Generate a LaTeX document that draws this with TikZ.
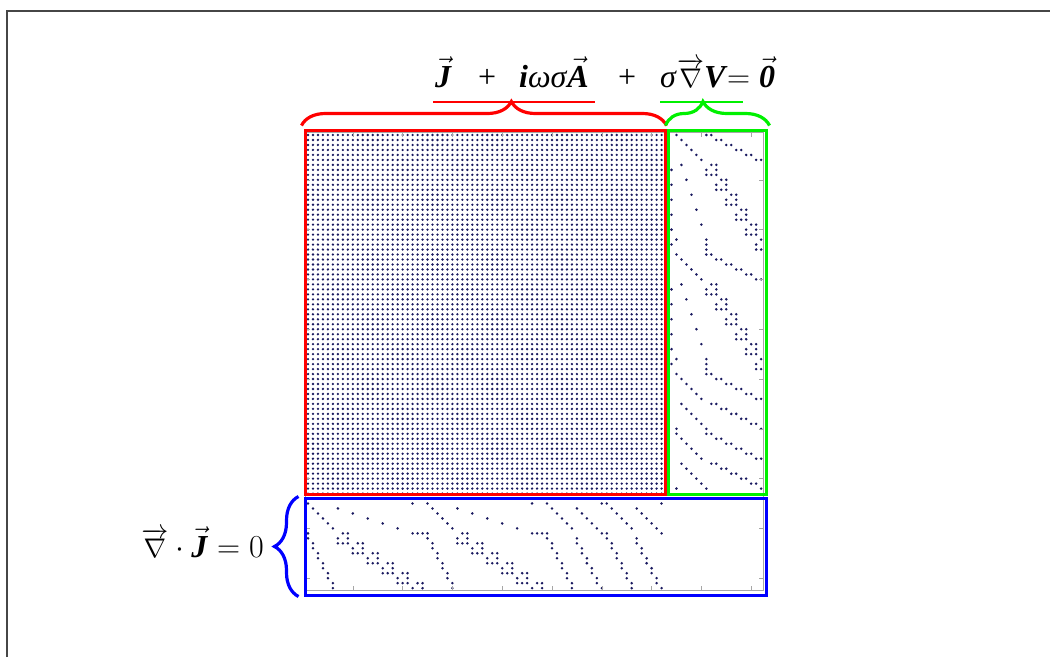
\RequirePackage{fix-cm}
\documentclass[tikz,border=0pt]{standalone}
\usepackage{fontspec}
\setmainfont{Liberation Serif}
\usepackage{amsmath}
\usetikzlibrary{decorations.pathreplacing}
\definecolor{spydot}{RGB}{25,25,95}
\definecolor{blockred}{RGB}{255,0,0}
\definecolor{blockgreen}{RGB}{0,240,0}
\definecolor{blockblue}{RGB}{0,0,255}
\definecolor{framegray}{RGB}{70,70,70}

\newcommand{\bvec}[1]{\ensuremath{\vec{\textbf{\textit{#1}}}}}
\newcommand{\bital}[1]{\textbf{\textit{#1}}}
\newcommand{\gradarrow}{{\fontsize{27}{32}\selectfont$\overrightarrow{\nabla}$}}
% one coupling entry: row #1 of the A block, column #2 of the V block (and its transpose)
\newcommand{\coupling}[2]{%
  \fill[spydot] ({671.5+4.98*(#2)},{135+4.98*(#1)}) circle (1.4);
  \fill[spydot] ({308+4.98*(#1)},{498.5+4.98*(#2)}) circle (1.4);}

\begin{document}
\begin{tikzpicture}[x=1pt,y=-1pt,
    eqtext/.style={inner sep=0pt,font=\fontsize{32}{38}\selectfont},
    blockbox/.style={draw=#1,line width=3pt,inner sep=0pt},
    bracemark/.style={decorate,line width=3.2pt,
      decoration={brace,amplitude=24pt,aspect=#1}},
    bracemark/.default=0.5]
  \useasboundingbox (0,0) rectangle (1050,657);
  \draw[framegray,line width=1.5pt] (7,657) -- (7,11) -- (1050,11);

  % dense A block
  \foreach \i in {0,...,72}
    \draw[spydot,line width=2.6pt,line cap=round,dash pattern=on 0pt off 4.98pt]
      (308,{135+4.98*\i}) -- (668,{135+4.98*\i});

  % coupling blocks
  \foreach \o in {0,24} {
    \foreach \k in {0,...,5} {
      \coupling{\o+\k}{1+\k} \coupling{\o+\k}{7+2*\k} \coupling{\o+\k}{8+2*\k}
    }
    \foreach \m in {0,...,4} {
      \coupling{\o+6+3*\m}{2+\m} \coupling{\o+6+3*\m}{8+2*\m} \coupling{\o+6+3*\m}{9+2*\m}
      \coupling{\o+7+3*\m}{7+2*\m} \coupling{\o+7+3*\m}{9+2*\m}
      \coupling{\o+8+3*\m}{7+2*\m} \coupling{\o+8+3*\m}{8+2*\m} \coupling{\o+8+3*\m}{9+2*\m}
    }
    \foreach \m in {0,...,5} {
      \coupling{\o+7+3*\m}{0}
    }
    \coupling{\o+21}{1} \coupling{\o+21}{7} \coupling{\o+21}{18}
    \coupling{\o+22}{7} \coupling{\o+22}{17}
    \coupling{\o+23}{7} \coupling{\o+23}{17} \coupling{\o+23}{18}
  }
  \foreach \o in {48,60} {
    \foreach \k in {0,...,5} {
      \coupling{\o+\k}{1+\k} \coupling{\o+\k}{7+2*\k} \coupling{\o+\k}{8+2*\k}
    }
    \foreach \k in {0,...,4} {
      \coupling{\o+6+\k}{2+\k} \coupling{\o+6+\k}{8+2*\k} \coupling{\o+6+\k}{9+2*\k}
    }
    \coupling{\o+11}{1} \coupling{\o+11}{7} \coupling{\o+11}{18}
  }

  % axes and ticks
  \draw[gray!70,line width=0.6pt] (305.5,132.5) rectangle (763.7,590.7);
  \foreach \t in {9,19,...,89}
    \draw[gray!70,line width=0.6pt]
      ({308+4.98*\t},132.5) -- ++(0,4.6) ({308+4.98*\t},590.7) -- ++(0,-4.6)
      (305.5,{135+4.98*\t}) -- ++(4.6,0) (763.7,{135+4.98*\t}) -- ++(-4.6,0);

  % blocks
  \node[blockbox=blockred,minimum width=360pt,minimum height=364pt] (ablock) at (485,312) {};
  \node[blockbox=blockgreen,minimum width=98pt,minimum height=364pt] (vblock) at (717,312) {};
  \node[blockbox=blockblue,minimum width=461pt,minimum height=97pt] (jblock) at (535.5,546.5) {};

  % equations
  \node[eqtext,anchor=base west] (termJ) at (435,87) {\bvec{J}};
  \node[eqtext,anchor=base west] (plusA) at (478,87) {+};
  \node[eqtext,anchor=base west] (termA) at (519,87) {\bital{i}\textit{ωσ}\bvec{A}};
  \node[eqtext,anchor=base west] (plusV) at (618,87) {+};
  \node[eqtext,anchor=base west] (termV) at (660,87) {\textit{σ}\gradarrow\bital{V}};
  \node[eqtext,anchor=base west] (zeroV) at (727,87) {$=$\;\bvec{0}};
  \node[eqtext,anchor=base east] (divJ) at (264,557) {\gradarrow${}\cdot\vec{\textbf{\textit{J}}}=0$};

  \draw[blockred,line width=2.5pt] ([shift={(-2,15)}]termJ.base west) -- ([shift={(6,15)}]termA.base east);
  \draw[blockgreen,line width=2.5pt] ([shift={(0,15)}]termV.base west) -- ([shift={(15,15)}]termV.base east);

  \draw[blockred,bracemark=0.575] ([shift={(-2,-3)}]ablock.north west) -- ([shift={(0,-3)}]ablock.north east);
  \draw[blockgreen,bracemark=0.36] ([shift={(-1,-3)}]vblock.north west) -- ([shift={(2,-3)}]vblock.north east);
  \draw[blockblue,bracemark] ([xshift=-5pt]jblock.south west) -- ([xshift=-5pt]jblock.north west);
\end{tikzpicture}
\end{document}
